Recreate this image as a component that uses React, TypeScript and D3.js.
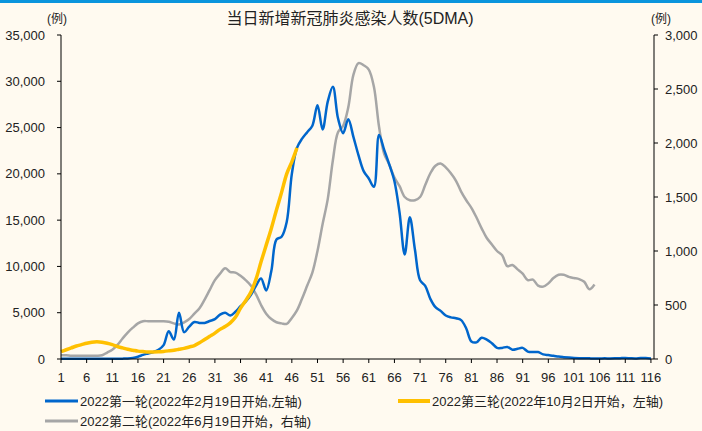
import React from 'react';
import * as d3 from 'd3';

const xTickLabels = [1, 6, 11, 16, 21, 26, 31, 36, 41, 46, 51, 56, 61, 66, 71, 76, 81, 86, 91, 96, 101, 106, 111, 116];
const leftTicks = [0, 5000, 10000, 15000, 20000, 25000, 30000, 35000];
const rightTicks = [0, 500, 1000, 1500, 2000, 2500, 3000];

// 2022 first wave (left axis), day 1..116
const wave1 = [
  20, 20, 20, 20, 20, 20, 20, 20, 20, 20, 30, 30, 40,
  60, 120, 250, 450, 600, 750, 1000, 1500,
  3000, 2100, 5000, 2900, 3500, 4000, 3900, 3900, 4100, 4300, 4800, 5000, 4700, 5100, 5700, 6200,
  6900, 7900, 8700, 7400, 9500, 12900, 13200, 14800, 20000, 22800, 23800, 24500, 25200, 27400, 24800, 27800, 29400, 26000,
  24400, 25900, 24000, 22000, 20300, 19500, 18600, 24200, 22600, 21000, 19200, 15800, 11300, 15300, 11800, 8500, 7900, 6500,
  5600, 5200, 4700, 4500, 4400, 4200, 3300,
  1900, 1800, 2300, 2100, 1700, 1200, 1200, 1300, 1000, 1100, 1200, 800, 750, 750, 500, 420, 350, 260, 200, 150, 110, 90,
  80, 70, 60, 60, 70, 60, 70, 90, 110, 80, 60, 100, 100, 60,
];

// 2022 third wave (left axis), day 1..47
const wave3 = [
  790, 1000, 1200, 1400, 1550, 1700, 1800, 1850, 1800, 1700,
  1550, 1350, 1200, 1050, 950, 850, 800, 760, 760, 780,
  820, 880, 950, 1050, 1150, 1300, 1450, 1750, 2100, 2450,
  2800, 3200, 3500, 3900, 4500, 5500, 6300, 7200, 8600, 10500,
  12300, 14100, 16100, 18000, 20000, 21300, 22800,
];

// 2022 second wave (right axis), day 1..105
const wave2 = [
  35, 35, 30, 30, 30, 30, 30, 30, 35, 60,
  85, 130, 190, 245, 290, 330, 350, 350, 350, 350,
  350, 345, 330, 320, 340, 370, 420, 470, 550, 640,
  730, 790, 840, 805, 800, 770, 730, 680, 600, 500,
  420, 370, 340, 330, 325, 380, 450, 560, 680, 800,
  1000, 1250, 1480, 1840, 2100, 2160, 2330, 2630, 2740, 2720,
  2680, 2520, 2150, 1900, 1800, 1680, 1600, 1500, 1470, 1470,
  1500, 1610, 1720, 1790, 1810, 1775, 1720, 1650, 1550, 1470,
  1400, 1310, 1210, 1120, 1060, 1000, 960, 860, 870, 830,
  790, 730, 735, 680, 670, 700, 750, 780, 780, 760,
  750, 740, 715, 645, 690,
];

const title = '当日新增新冠肺炎感染人数(5DMA)';
const unitLabel = '(例)';
const legend1 = '2022第一轮(2022年2月19日开始,左轴)';
const legend3 = '2022第三轮(2022年10月2日开始，左轴)';
const legend2 = '2022第二轮(2022年6月19日开始，右轴)';

const W = 702;
const H = 431;
const BLUE = '#0066CC';
const YELLOW = '#FFC000';
const GRAY = '#A6A6A6';
const BG = '#FFFAF0';
const NUM_FONT = '"Liberation Sans", Arial, sans-serif';
const CJK_FONT = '"Liberation Sans", "Noto Sans CJK SC", sans-serif';

export default function App() {
  const x = d3.scaleLinear().domain([1, 116.6]).range([61, 654]);
  const yL = d3.scaleLinear().domain([0, 35000]).range([359, 35]);
  const yR = d3.scaleLinear().domain([0, 3000]).range([359, 35]);
  const fmt = d3.format(',');

  const lineL = d3
    .line<number>()
    .x((_, i) => x(i + 1))
    .y((d) => yL(d))
    .curve(d3.curveCatmullRom.alpha(0.5));
  const lineR = d3
    .line<number>()
    .x((_, i) => x(i + 1))
    .y((d) => yR(d))
    .curve(d3.curveCatmullRom.alpha(0.5));

  const [x0, x1] = x.range();
  const [yBottom, yTop] = yL.range();

  return (
    <svg width={W} height={H} style={{ position: 'absolute', left: 0, top: 0 }}>
      <rect x={0} y={0} width={W} height={H} fill={BG} />
      <rect x={0} y={0} width={W} height={3} fill="#0A95DD" />
      <text x={350} y={24} textAnchor="middle" fontSize={16} fill="#222" fontFamily={CJK_FONT}>
        {title}
      </text>
      <text x={57} y={23} textAnchor="middle" fontSize={12} fill="#222" fontFamily={CJK_FONT}>
        {unitLabel}
      </text>
      <text x={661} y={23} textAnchor="middle" fontSize={12} fill="#222" fontFamily={CJK_FONT}>
        {unitLabel}
      </text>

      {/* lines */}
      <path d={lineR(wave2) || ''} fill="none" stroke={GRAY} strokeWidth={2.5} strokeLinejoin="round" />
      <path d={lineL(wave1) || ''} fill="none" stroke={BLUE} strokeWidth={2.5} strokeLinejoin="round" />
      <path d={lineL(wave3) || ''} fill="none" stroke={YELLOW} strokeWidth={3.5} strokeLinejoin="round" />

      {/* axes */}
      <line x1={x0} x2={x0} y1={yTop} y2={yBottom} stroke="#000" strokeWidth={1} />
      <line x1={x1} x2={x1} y1={yTop} y2={yBottom} stroke="#000" strokeWidth={1} />
      <line x1={x0} x2={x1} y1={yBottom} y2={yBottom} stroke="#000" strokeWidth={1} />

      {leftTicks.map((t) => (
        <g key={'l' + t}>
          <line x1={x0 - 4} x2={x0} y1={yL(t)} y2={yL(t)} stroke="#000" />
          <text x={45} y={yL(t)} dy="0.35em" textAnchor="end" fontSize={13} fill="#222" fontFamily={NUM_FONT}>
            {fmt(t)}
          </text>
        </g>
      ))}
      {rightTicks.map((t) => (
        <g key={'r' + t}>
          <line x1={x1} x2={x1 + 4} y1={yR(t)} y2={yR(t)} stroke="#000" />
          <text x={665} y={yR(t)} dy="0.35em" textAnchor="start" fontSize={13} fill="#222" fontFamily={NUM_FONT}>
            {fmt(t)}
          </text>
        </g>
      ))}
      {xTickLabels.map((t) => (
        <g key={'x' + t}>
          <line x1={x(t)} x2={x(t)} y1={yBottom} y2={yBottom + 4} stroke="#000" />
          <text x={x(t)} y={382} textAnchor="middle" fontSize={13} fill="#222" fontFamily={NUM_FONT}>
            {t}
          </text>
        </g>
      ))}

      {/* legend */}
      <line x1={45} x2={78} y1={401} y2={401} stroke={BLUE} strokeWidth={3} />
      <text x={80} y={405.5} fontSize={13} fill="#222" fontFamily={CJK_FONT}>{legend1}</text>
      <line x1={398} x2={430} y1={401} y2={401} stroke={YELLOW} strokeWidth={4} />
      <text x={432} y={405.5} fontSize={13} fill="#222" fontFamily={CJK_FONT}>{legend3}</text>
      <line x1={45} x2={78} y1={421} y2={421} stroke={GRAY} strokeWidth={3} />
      <text x={80} y={425.5} fontSize={13} fill="#222" fontFamily={CJK_FONT}>{legend2}</text>
    </svg>
  );
}
